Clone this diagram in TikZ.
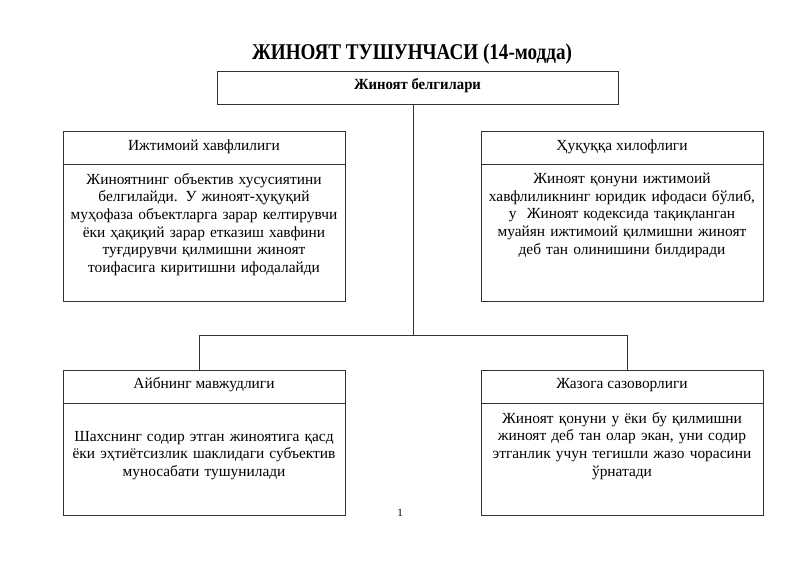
\documentclass[tikz,border=0pt]{standalone}
\usepackage{fontspec}
\setmainfont{Liberation Serif}
\begin{document}
\begin{tikzpicture}[x=1pt,y=-1pt,
  ln/.style={draw=black!80, line width=0.9pt},
  bigbox/.style={ln, minimum width=282pt, minimum height=170pt, inner sep=0pt},
  lowbox/.style={ln, minimum width=282pt, minimum height=145pt, inner sep=0pt},
  head/.style={font=\fontsize{15.4}{17.6}\selectfont, inner sep=0pt, anchor=base},
  body/.style={font=\fontsize{15.4}{17.6}\selectfont, align=center, text width=280pt, inner sep=0pt, anchor=north}
]
\useasboundingbox (0,0) rectangle (800,565);
\fill[white] (0,0) rectangle (800,565);

% title
\node[font=\bfseries\fontsize{22.5}{26}\selectfont, anchor=base] (title) at (412,59) {\scalebox{0.85}[1]{ЖИНОЯТ ТУШУНЧАСИ (14-модда)}};

% top box
\node[ln, minimum width=401pt, minimum height=33pt, inner sep=0pt] (top) at (417.5,87.5) {};
\node[font=\bfseries\fontsize{15.5}{17.6}\selectfont, anchor=base] (toptext) at (417.5,89) {\scalebox{0.95}[1]{Жиноят белгилари}};

% upper boxes
\node[bigbox] (UL) at (204,216) {};
\node[bigbox] (UR) at (622,216) {};
\draw[ln] (UL.west |- 0,164.5) coordinate (ULd1) -- (UL.east |- 0,164.5) coordinate (ULd2);
\draw[ln] (UR.west |- 0,164.5) coordinate (URd1) -- (UR.east |- 0,164.5) coordinate (URd2);
\node[head] (ULh) at (204,150) {Ижтимоий хавфлилиги};
\node[head] (URh) at (622,150) {Ҳуқуққа хилофлиги};
\node[body] (ULb) at (204,173) {Жиноятнинг объектив хусусиятини\\белгилайди. У жиноят-ҳуқуқий\\муҳофаза объектларга зарар келтирувчи\\ёки ҳақиқий зарар етказиш хавфини\\туғдирувчи қилмишни жиноят\\тоифасига киритишни ифодалайди};
\node[body] (URb) at (622,173) {Жиноят қонуни ижтимоий\\хавфлиликнинг юридик ифодаси бўлиб,\\у\ \ Жиноят кодексида тақиқланган\\муайян ижтимоий қилмишни жиноят\\деб тан олинишини билдиради};

% lower boxes
\node[lowbox] (LL) at (204,442.5) {};
\node[lowbox] (LR) at (622,442.5) {};
\draw[ln] (LL.west |- 0,403.5) coordinate (LLd1) -- (LL.east |- 0,403.5) coordinate (LLd2);
\draw[ln] (LR.west |- 0,403.5) coordinate (LRd1) -- (LR.east |- 0,403.5) coordinate (LRd2);
\node[head] (LLh) at (204,388) {Айбнинг мавжудлиги};
\node[head] (LRh) at (622,388) {Жазога сазоворлиги};
\node[body] (LLb) at (204,431) {Шахснинг содир этган жиноятига қасд\\ёки эҳтиётсизлик шаклидаги субъектив\\муносабати тушунилади};
\node[body] (LRb) at (622,412) {Жиноят қонуни у ёки бу қилмишни\\жиноят деб тан олар экан, уни содир\\этганлик учун тегишли жазо чорасини\\ўрнатади};

% connectors
\coordinate (hub) at (413,335);
\coordinate (jl) at (199,335);
\coordinate (jr) at (627,335);
\draw[ln] (hub |- top.south) -- (hub);
\draw[ln] (jl) -- (jr);
\draw[ln] (jl) -- (jl |- LL.north);
\draw[ln] (jr) -- (jr |- LR.north);

% page number
\node[font=\fontsize{11}{13}\selectfont, anchor=base] (pg) at (400,516) {1};
\end{tikzpicture}
\end{document}
